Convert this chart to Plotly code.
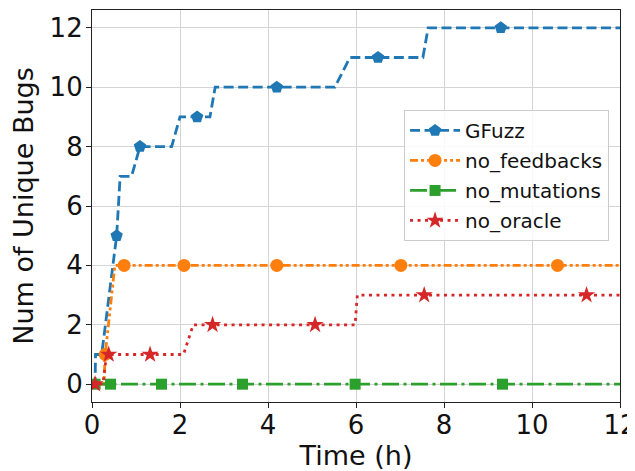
import plotly.graph_objects as go

# ---- data (hours, cumulative unique bugs) ----
gfuzz_t = [0, 0.07, 0.08, 0.22, 0.56, 0.64, 0.90, 1.09, 1.81, 2.00, 2.68, 2.80, 5.52, 5.86, 7.52, 7.64, 12]
gfuzz_y = [0, 0, 1, 1, 5, 7, 7, 8, 8, 9, 9, 10, 10, 11, 11, 12, 12]
gfuzz_mt = [0.56, 1.09, 2.39, 4.20, 6.50, 9.29]
gfuzz_my = [5, 8, 9, 10, 11, 12]

nofb_t = [0, 0.27, 0.30, 0.52, 12]
nofb_y = [0, 0, 1, 4, 4]
nofb_mt = [0.30, 0.73, 2.09, 4.20, 7.02, 10.58]
nofb_my = [1, 4, 4, 4, 4, 4]

nomut_t = [0, 12]
nomut_y = [0, 0]
nomut_mt = [0.07, 0.42, 1.58, 3.42, 5.98, 9.33]
nomut_my = [0, 0, 0, 0, 0, 0]

noor_t = [0, 0.25, 0.33, 2.08, 2.30, 5.98, 6.03, 12]
noor_y = [0, 0, 1, 1, 2, 2, 3, 3]
noor_mt = [0.07, 0.38, 1.32, 2.74, 5.07, 7.55, 11.24]
noor_my = [0, 1, 1, 2, 2, 3, 3]

names = ["GFuzz", "no_feedbacks", "no_mutations", "no_oracle"]
x_ticks = [0, 2, 4, 6, 8, 10, 12]
y_ticks = [0, 2, 4, 6, 8, 10, 12]

series = [
    (names[0], gfuzz_t, gfuzz_y, gfuzz_mt, gfuzz_my, "#1f77b4", "10px,4.5px", "pentagon", 13),
    (names[1], nofb_t, nofb_y, nofb_mt, nofb_my, "#ff7f0e", "8px,3px,3px,3px,3px,3px", "circle", 13),
    (names[2], nomut_t, nomut_y, nomut_mt, nomut_my, "#2ca02c", "17px,4.5px,3px,4.5px", "square", 11),
    (names[3], noor_t, noor_y, noor_mt, noor_my, "#d62728", "3px,4.5px", "star", 13),
]

fig = go.Figure()
for name, t, y, mt, my, col, dash, sym, ms in series:
    fig.add_trace(go.Scatter(x=t, y=y, mode="lines", line=dict(color=col, width=2.8, dash=dash),
                             showlegend=False, legendgroup=name, hoverinfo="skip"))
    fig.add_trace(go.Scatter(x=mt, y=my, mode="markers",
                             marker=dict(color=col, symbol=sym, size=ms, line=dict(width=0)),
                             showlegend=False, legendgroup=name))
    fig.add_trace(go.Scatter(x=[None], y=[None], mode="lines+markers", name=name,
                             line=dict(color=col, width=2.8, dash=dash),
                             marker=dict(color=col, symbol=sym, size=ms, line=dict(width=0)),
                             legendgroup=name))

axis_common = dict(
    showgrid=True, gridcolor="#d4d4d4", gridwidth=1.2,
    showline=True, linecolor="#222222", linewidth=1.2, mirror=True,
    ticks="outside", ticklen=5, tickcolor="#222222", tickwidth=1.2,
    tickfont=dict(family="DejaVu Sans", size=26, color="#111111"),
    zeroline=False, automargin=False, ticklabeloverflow="allow",
)

# page body has an 8px margin, so the figure is sized/offset accordingly
fig.update_layout(
    width=627, height=463,
    margin=dict(l=84, r=15, t=2, b=69),
    paper_bgcolor="white", plot_bgcolor="white",
    font=dict(family="DejaVu Sans", color="#111111"),
    xaxis=dict(range=[0, 12], tickvals=x_ticks, ticklabelstandoff=-5,
               title=dict(text="Time (h)", font=dict(size=27), standoff=9), **axis_common),
    yaxis=dict(range=[-0.6, 12.6], tickvals=y_ticks, ticklabelstandoff=-2,
               title=dict(text="Num of Unique Bugs", font=dict(size=27), standoff=9), **axis_common),
    legend=dict(x=0.591, y=0.745, xanchor="left", yanchor="top",
                bgcolor="rgba(255,255,255,0.85)", bordercolor="#cccccc", borderwidth=1,
                font=dict(family="DejaVu Sans", size=20, color="#111111"),
                traceorder="grouped", tracegroupgap=1, itemwidth=50),
    showlegend=True,
)

fig.write_html("out.html")
